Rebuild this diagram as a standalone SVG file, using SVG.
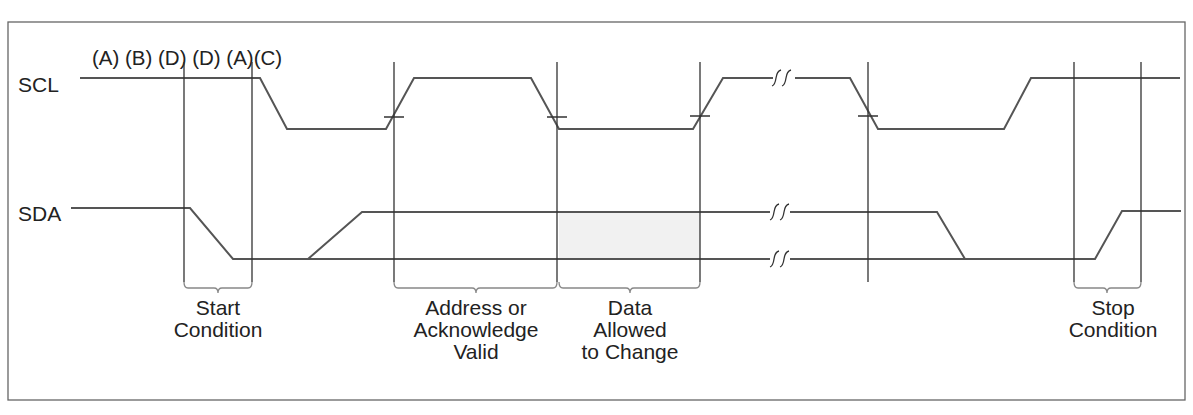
<svg xmlns="http://www.w3.org/2000/svg" width="1193" height="415" viewBox="0 0 1193 415">
<style>
.w{fill:none;stroke:#555;stroke-width:2}
.v{fill:none;stroke:#333;stroke-width:1.3}
.b{fill:none;stroke:#888;stroke-width:1.3}
text{font-family:"Liberation Sans",Arial,sans-serif;font-size:21px;fill:#222}
.c{text-anchor:middle}
</style>
<rect x="0" y="0" width="1193" height="415" fill="#fff"/>
<rect x="8" y="22" width="1177" height="378" fill="none" stroke="#666" stroke-width="1.3"/>
<rect x="559" y="212" width="141" height="47" fill="#f1f1f1"/>
<g id="labels">
<text x="18" y="92">SCL</text>
<text x="18" y="221">SDA</text>
<text x="92" y="65" style="font-size:20.5px">(A) (B) (D) (D) (A)(C)</text>
</g>
<g id="connectors">
<polyline class="w" points="80,78 260,78 287,129 386,129 414,78 531,78 559,129 693,129 723,78 773,78"/>
<polyline class="w" points="795,78 850,78 878,129 1004,129 1031,78 1180,78"/>
<path class="v" d="M781,70 q-4,1 -5,8 q-1,7 -4,8 M791,70 q-4,1 -5,8 q-1,7 -4,8"/>
<polyline class="w" points="71,208 190,208 233,259 770,259"/>
<polyline class="w" points="308,259 362,212 770,212"/>
<path class="v" d="M779,204 q-4,1 -5,8 q-1,7 -4,8 M789,204 q-4,1 -5,8 q-1,7 -4,8 M779,251 q-4,1 -5,8 q-1,7 -4,8 M789,251 q-4,1 -5,8 q-1,7 -4,8"/>
<polyline class="w" points="790,212 937,212 965,259"/>
<polyline class="w" points="790,259 1095,259 1122,211 1181,211"/>
<path class="v" d="M184,62 V282 M252,62 V282 M394,62 V282 M557,62 V282 M700,62 V282 M868,62 V282 M1074,62 V282 M1141,62 V282"/>
<path class="v" d="M384,117 H404 M547,117 H567 M690,116 H710 M858,116 H878"/>
<path class="b" d="M184,282 q0,6 4,6 H214 q4,0 4,5 q0,-5 4,-5 H248 q4,0 4,-6"/>
<path class="b" d="M394,282 q0,6 4,6 H472 q4,0 4,5 q0,-5 4,-5 H553 q4,0 4,-6"/>
<path class="b" d="M559,282 q0,6 4,6 H626 q4,0 4,5 q0,-5 4,-5 H696 q4,0 4,-6"/>
<path class="b" d="M1074,282 q0,6 4,6 H1103 q4,0 4,5 q0,-5 4,-5 H1137 q4,0 4,-6"/>
</g>
<g id="n-start"><text class="c" x="218" y="315">Start</text><text class="c" x="218" y="337">Condition</text></g>
<g id="n-addr"><text class="c" x="476" y="315">Address or</text><text class="c" x="476" y="337">Acknowledge</text><text class="c" x="476" y="359">Valid</text></g>
<g id="n-data"><text class="c" x="630" y="315">Data</text><text class="c" x="630" y="337">Allowed</text><text class="c" x="630" y="359">to Change</text></g>
<g id="n-stop"><text class="c" x="1113" y="315">Stop</text><text class="c" x="1113" y="337">Condition</text></g>
</svg>
